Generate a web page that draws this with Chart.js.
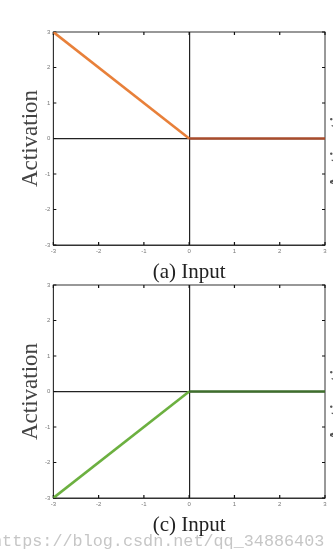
<!DOCTYPE html>
<html>
<head>
<meta charset="utf-8">
<script src="https://cdn.jsdelivr.net/npm/chart.js@4/dist/chart.umd.min.js"></script>
<style>
  html, body { margin: 0; padding: 0; background: #fff; }
  body { width: 333px; height: 557px; position: relative; overflow: hidden; }
  canvas { position: absolute; left: 0; }
  #chartA { top: 0; }
  #chartC { top: 270px; }
  .side {
    position: absolute; font-family: "Liberation Serif", serif; font-size: 23px; color: #555;
    transform: rotate(-90deg); transform-origin: left top; white-space: nowrap; line-height: 26px;
  }
  #mark {
    position: absolute; left: -8px; top: 532px; font-family: "Liberation Mono", monospace;
    font-size: 16.8px; color: #c6c6c6; white-space: nowrap;
  }
</style>
</head>
<body>
<canvas id="chartA" width="333" height="290"></canvas>
<canvas id="chartC" width="333" height="287"></canvas>
<div class="side" style="left:325px; top:190px;">Activation</div>
<div class="side" style="left:325px; top:443px;">Activation</div>
<div id="mark">https://blog.csdn.net/qq_34886403</div>
<script>
const inputs = [-3, 0, 3];
const activationA = [3, 0, 0];
const activationC = [-3, 0, 0];
const xTicks = [-3, -2, -1, 0, 1, 2, 3];
const yTicks = [-3, -2, -1, 0, 1, 2, 3];

// frame around the plot and short inward ticks on all four sides
const framePlugin = {
    id: 'frame',
    beforeDatasetsDraw(chart) {
        const { ctx, chartArea: a, scales } = chart;
        ctx.save();
        ctx.strokeStyle = '#333';
        ctx.lineWidth = 1;
        ctx.strokeRect(a.left, a.top, a.right - a.left, a.bottom - a.top);
        ctx.strokeStyle = '#111';
        ctx.lineWidth = 1.2;
        ctx.beginPath();
        xTicks.forEach(v => {
            const px = scales.x.getPixelForValue(v);
            ctx.moveTo(px, a.bottom); ctx.lineTo(px, a.bottom - 3);
            ctx.moveTo(px, a.top); ctx.lineTo(px, a.top + 3);
        });
        yTicks.forEach(v => {
            const py = scales.y.getPixelForValue(v);
            ctx.moveTo(a.left, py); ctx.lineTo(a.left + 3, py);
            ctx.moveTo(a.right, py); ctx.lineTo(a.right - 3, py);
        });
        ctx.stroke();
        ctx.restore();
    }
};

function makeChart(id, values, color, dark, title, pad) {
    return new Chart(document.getElementById(id), {
        type: 'line',
        data: {
            datasets: [{
                data: inputs.map((x, i) => ({ x: x, y: values[i] })),
                borderColor: color,
                borderWidth: 2.6,
                pointRadius: 0,
                tension: 0,
                segment: {
                    borderColor: c => (c.p0.parsed.y === 0 && c.p1.parsed.y === 0) ? dark : undefined
                }
            }]
        },
        options: {
            responsive: false,
            animation: false,
            layout: { padding: pad },
            plugins: { legend: { display: false }, tooltip: { enabled: false } },
            scales: {
                x: {
                    type: 'linear', min: -3, max: 3,
                    afterBuildTicks: s => { s.ticks = xTicks.map(v => ({ value: v })); },
                    grid: {
                        drawTicks: false,
                        color: c => c.tick && c.tick.value === 0 ? '#222' : 'rgba(0,0,0,0)',
                        lineWidth: 1.2
                    },
                    border: { display: true, color: '#333' },
                    ticks: { padding: 3, color: '#777', font: { size: 6 }, maxRotation: 0 },
                    title: {
                        display: true, text: title, color: '#222',
                        font: { family: 'Liberation Serif', size: 21, lineHeight: 1.2 },
                        padding: { top: 2, bottom: 0 }
                    }
                },
                y: {
                    type: 'linear', min: -3, max: 3,
                    afterBuildTicks: s => { s.ticks = yTicks.map(v => ({ value: v })); },
                    grid: {
                        drawTicks: false,
                        color: c => c.tick && c.tick.value === 0 ? '#222' : 'rgba(0,0,0,0)',
                        lineWidth: 1.2
                    },
                    border: { display: true, color: '#333' },
                    ticks: { padding: 3, color: '#777', font: { size: 6 } },
                    title: {
                        display: true, text: 'Activation', color: '#444',
                        font: { family: 'Liberation Serif', size: 23, lineHeight: 1 },
                        padding: 0
                    }
                }
            }
        },
        plugins: [framePlugin]
    });
}

makeChart('chartA', activationA, '#e8803a', '#a84c2c', '(a) Input',
    { left: 19, right: 8, top: 32, bottom: 4.6 });
makeChart('chartC', activationC, '#6cb040', '#3e6e2c', '(c) Input',
    { left: 19, right: 8, top: 15, bottom: 18.6 });
</script>
</body>
</html>
